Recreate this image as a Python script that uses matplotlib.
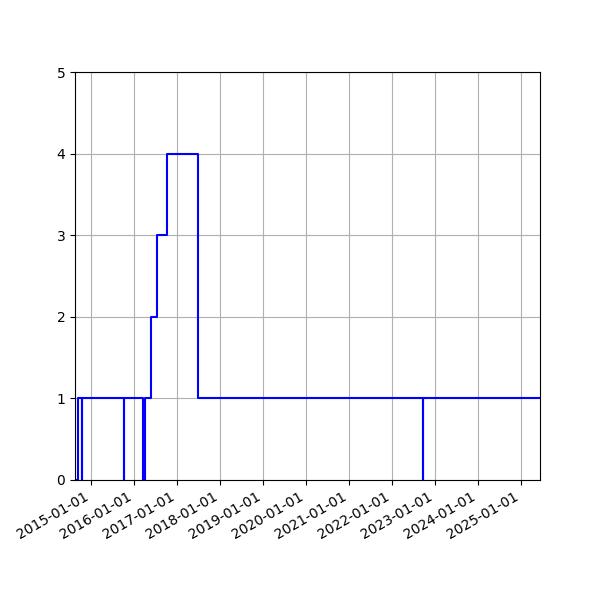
import matplotlib
matplotlib.use("Agg")
import matplotlib.pyplot as plt
import matplotlib.dates as mdates
import numpy as np
import datetime as dt

dates = [
    "2014-08-19", "2014-09-10", "2014-10-14", "2014-10-17",
    "2015-10-08", "2015-10-11", "2016-03-17", "2016-04-03",
    "2016-05-23", "2016-07-16", "2016-10-07", "2017-06-30",
    "2022-09-22", "2022-09-25", "2025-06-15",
]
values = [0, 1, 0, 1, 0, 1, 0, 1, 2, 3, 4, 1, 0, 1, 1]

x = [dt.datetime.strptime(d, "%Y-%m-%d") for d in dates]

fig, ax = plt.subplots(figsize=(6, 6), dpi=100)
ax.plot(x, values, drawstyle="steps-post", color="blue")
ax.set_xlim(x[0], x[-1])
ax.set_ylim(0, 5)
ax.xaxis.set_major_locator(mdates.YearLocator())
ax.xaxis.set_major_formatter(mdates.DateFormatter("%Y-%m-%d"))
ax.grid(True)
fig.autofmt_xdate()
fig.savefig("out.png", dpi=100)
